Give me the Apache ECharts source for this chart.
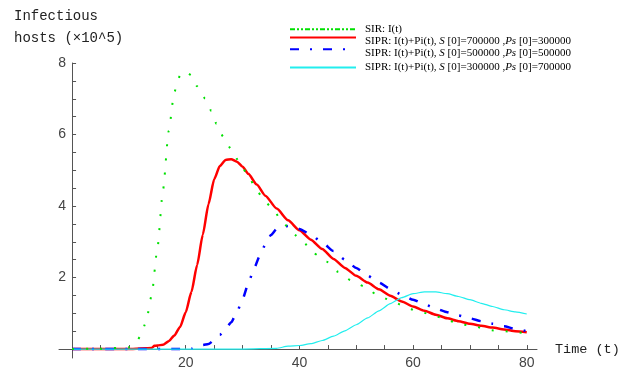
<!DOCTYPE html>
<html>
<head>
<meta charset="utf-8">
<script src="https://cdn.jsdelivr.net/npm/echarts@6/dist/echarts.min.js"></script>
<style>html,body{margin:0;padding:0;background:#fff;}#c{width:627px;height:374px;}</style>
</head>
<body>
<div id="c"></div>
<script>
// ---- data ----
const seriesNames = [
  'SIR: I(t)',
  'SIPR: I(t)+Pi(t), S [0]=700000 ,Ps [0]=300000',
  'SIPR: I(t)+Pi(t), S [0]=500000 ,Ps [0]=500000',
  'SIPR: I(t)+Pi(t), S [0]=300000 ,Ps [0]=700000'
];
const xTickValues = [5,10,15,20,25,30,35,40,45,50,55,60,65,70,75,80];
const xLabelValues = [20,40,60,80];
const yTickValues = [0.5,1,1.5,2,2.5,3,3.5,4,4.5,5,5.5,6,6.5,7,7.5,8];
const yLabelValues = [2,4,6,8];

const sirX = [0,5,10,11,12,13,14,15,16,17,18,19,20,21,22,23.4,24.5,25.4,26.6,28,29.5,31,32.3,33.6,35.4,37,38.8,40.8,42.5,44.8,46.8,49,51.3,53.5,55.9,58.3,60.6,63,65.6,68.1,70.7,73.3,75.8,78.3,80];
const sirY = [0,0.01,0.05,0.12,0.35,0.75,1.5,2.8,4.45,6.1,7.2,7.65,7.77,7.65,7.35,7.01,6.66,6.3,5.94,5.59,5.21,4.84,4.5,4.2,3.89,3.56,3.24,2.97,2.68,2.44,2.16,1.93,1.76,1.54,1.37,1.21,1.06,0.98,0.84,0.7,0.64,0.53,0.5,0.47,0.44];

const s7X = [0,5,10,14,14.5,15,16,17,18,19,20,21,22,23,24,25,26,27,28,29,30,31,32.5,34,36,38,40,42,44,46,48,50,52,54,56,58,60,62,64,66,68,70,72,74,76,78,80];
const s7Y = [0,0,0,0.03,0.09,0.1,0.12,0.22,0.38,0.62,1.03,1.6,2.35,3.2,4.05,4.75,5.12,5.29,5.31,5.24,5.1,4.9,4.6,4.29,3.93,3.6,3.32,3.06,2.8,2.52,2.27,2.05,1.86,1.67,1.49,1.33,1.19,1.07,0.96,0.86,0.78,0.71,0.65,0.6,0.55,0.5,0.47];

const s5X = [0,10,20,21,22,23,24,25,26,27,28,29,30,31,32,33,34,35,36,37,38,39,40,42,44,46,48,50,52,54,56,58,60,62,64,66,68,70,72,74,76,78,80];
const s5Y = [0,0,0,0.01,0.09,0.11,0.14,0.25,0.4,0.56,0.75,1.03,1.4,1.83,2.25,2.6,2.92,3.19,3.36,3.43,3.44,3.41,3.36,3.2,2.98,2.74,2.5,2.27,2.05,1.86,1.68,1.52,1.38,1.25,1.13,1.03,0.94,0.86,0.78,0.71,0.64,0.56,0.5];

const s3X = [0,10,20,30,36,38,40,42,44,46,48,50,52,54,56,58,60,62,64,66,68,70,72,74,76,78,80];
const s3Y = [0,0,0,0,0.02,0.08,0.1,0.15,0.24,0.36,0.51,0.68,0.87,1.07,1.27,1.44,1.55,1.6,1.6,1.55,1.47,1.38,1.28,1.19,1.1,1.04,0.98];

// ---- build ----
function pairs(xs, ys){ return xs.map((x,i)=>[x, ys[i]]); }

const chart = echarts.init(document.getElementById('c'), null, {renderer:'canvas'});
const legendFont = 'Liberation Serif';
function legendFmt(name){
  return name.replace('S [0]', '{i|S} [0]').replace('Ps [0]', '{i|Ps} [0]');
}
function mkLegend(name, top, textPadTop, lineStyle){
  const l = {
    data:[name], left:289, top:top, padding:0, itemWidth:66, itemHeight:8,
    orient:'horizontal', selectedMode:false,
    itemStyle:{opacity:0},
    formatter: legendFmt,
    textStyle:{fontFamily:legendFont, fontSize:11, color:'#000',
      padding:[textPadTop,0,0,4],
      rich:{i:{fontFamily:legendFont, fontSize:11, fontStyle:'italic', color:'#000'}}}
  };
  if (lineStyle) l.lineStyle = lineStyle;
  return l;
}

const axisColor = '#555';
const option = {
  animation:false,
  backgroundColor:'#fff',
  title:{
    text:'Infectious\nhosts (×10^5)', left:9, top:0,
    textStyle:{fontFamily:'Liberation Mono', fontSize:14, fontWeight:'normal', color:'#222', lineHeight:22}
  },
  legend:[
    mkLegend(seriesNames[0], 23.7, 0, {type:[5,2,2,2,2,2], width:2}),
    mkLegend(seriesNames[1], 34.3, 8),
    mkLegend(seriesNames[2], 46, 8),
    mkLegend(seriesNames[3], 62, 0)
  ],
  grid:{left:59, right:90, top:63, bottom:16, containLabel:false, outerBoundsMode:'none'},
  xAxis:{
    type:'value', min:-2.3, max:81.8,
    name:'Time (t)', nameLocation:'end', nameGap:18,
    nameTextStyle:{fontFamily:'Liberation Mono', fontSize:13.5, color:'#222', verticalAlign:'middle'},
    axisLine:{onZero:true, lineStyle:{color:axisColor, width:1}},
    axisTick:{show:true, inside:true, length:4, customValues:xTickValues, lineStyle:{color:axisColor}},
    axisLabel:{customValues:xLabelValues, margin:-2, fontFamily:'Liberation Sans', fontSize:14, color:'#444'},
    splitLine:{show:false}
  },
  yAxis:{
    type:'value', min:-0.25, max:8,
    axisLine:{show:true, onZero:true, lineStyle:{color:axisColor, width:1}},
    axisTick:{show:true, inside:true, length:4, customValues:yTickValues, lineStyle:{color:axisColor}},
    axisLabel:{customValues:yLabelValues, margin:-7, fontFamily:'Liberation Sans', fontSize:14, color:'#444'},
    splitLine:{show:false}
  },
  series:[
    {name:seriesNames[1], type:'line', data:pairs(s7X,s7Y), symbol:'none', showSymbol:false,
      smooth:0.2, smoothMonotone:'x', lineStyle:{color:'#ff0000', width:2.5}, itemStyle:{color:'#ff0000'}, z:2},
    {name:seriesNames[2], type:'line', data:pairs(s5X,s5Y), symbol:'none', showSymbol:false,
      smooth:0.2, smoothMonotone:'x', lineStyle:{color:'#0000ff', width:2.5, type:[9,11,2,11]}, itemStyle:{color:'#0000ff'}, z:3},
    {name:seriesNames[3], type:'line', data:pairs(s3X,s3Y), symbol:'none', showSymbol:false,
      smooth:0.2, smoothMonotone:'x', lineStyle:{color:'#22eeee', width:1.2}, itemStyle:{color:'#22eeee'}, z:4},
    {name:seriesNames[0], type:'line', data:pairs(sirX,sirY), symbol:'none', showSymbol:false,
      smooth:0.2, smoothMonotone:'x', lineStyle:{color:'#00e000', width:2, type:[2,12]}, itemStyle:{color:'#00e000'}, z:5}
  ]
};
chart.setOption(option);
</script>
</body>
</html>
